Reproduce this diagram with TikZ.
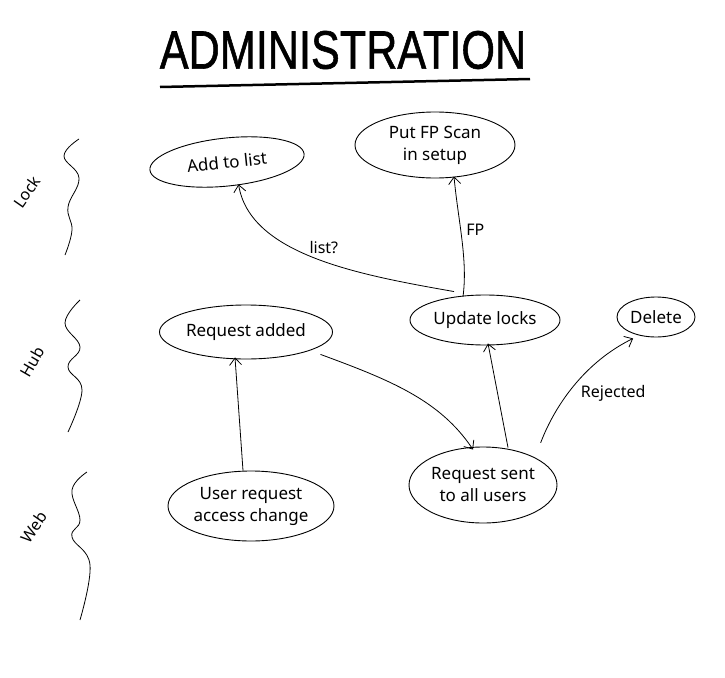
\documentclass[tikz,border=0pt]{standalone}
\usepackage{fontspec}
\setmainfont{Noto Sans}
\newfontfamily\titlefont[FakeBold=1.2]{Liberation Sans}
\usetikzlibrary{shapes.geometric,arrows.meta}
\begin{document}
\begin{tikzpicture}[x=1pt,y=-1pt,
  state/.style={draw,ellipse,line width=0.9pt,inner sep=0pt,align=center,font=\fontsize{17}{22}\selectfont},
  flow/.style={line width=0.8pt,-{Straight Barb[length=7pt,width=12pt,line width=0.8pt]}},
  wave/.style={line width=0.8pt},
  lane/.style={font=\fontsize{16}{18}\selectfont},
  lbl/.style={font=\fontsize{16}{18}\selectfont}]
\useasboundingbox (0,0) rectangle (725,677);
% title
\node[xscale=0.8] (title) at (343,50) {\titlefont\fontsize{54}{58}\selectfont ADMINISTRATION};
\coordinate (ul1) at (160,87);
\coordinate (ul2) at (530,79);
\draw[line width=2.5pt] (ul1) -- (ul2);
% lanes
\draw[wave] plot[smooth,tension=0.7] coordinates {(79,139) (64,156) (79,178) (68,207) (72,230) (65,255)};
\draw[wave] plot[smooth,tension=0.7] coordinates {(80,300) (65,323) (80,347) (68,367) (82,390) (68,432)};
\draw[wave] plot[smooth,tension=0.7] coordinates {(87,472) (72,490) (80,520) (72,537) (90,565) (80,620)};
\node[lane,rotate=55] (lock) at (27,192) {Lock};
\node[lane,rotate=60] (hub) at (32,362) {Hub};
\node[lane,rotate=55] (web) at (34,527) {Web};
% states
\node[state,minimum width=155pt,minimum height=48pt,rotate=6] (add) at (227,162) {Add to list};
\node[state,minimum width=160pt,minimum height=66pt] (fp) at (435,145) {Put FP Scan\\in setup};
\node[state,minimum width=173pt,minimum height=54pt] (req) at (246,332) {Request added};
\node[state,minimum width=150pt,minimum height=50pt] (upd) at (485,320) {Update locks};
\node[state,minimum width=78pt,minimum height=40pt] (del) at (656,317) {Delete};
\node[state,minimum width=166pt,minimum height=70pt] (user) at (251,506) {User request\\access change};
\node[state,minimum width=148pt,minimum height=76pt] (sent) at (483,485) {Request sent\\to all users};
% connectors
\draw[flow] ([xshift=-8pt]user.north) -- ([xshift=-11pt,yshift=2pt]req.south);
\draw[flow] ([xshift=13pt,yshift=-3pt]req.south east) .. controls (390,380) and (440,400) .. ([xshift=-10pt,yshift=-3pt]sent.north);
\draw[flow] ([xshift=25pt,yshift=-1pt]sent.north) -- ([xshift=3pt,yshift=2pt]upd.south);
\draw[flow] ([xshift=5pt,yshift=15pt]sent.north east) .. controls (555,405) and (585,362) .. ([xshift=5pt,yshift=-7pt]del.south west)
  node[pos=0.5,right,lbl,xshift=3pt,yshift=-8pt] {Rejected};
\draw[flow] ([xshift=-31pt,yshift=3pt]upd.north) .. controls (360,275) and (250,255) .. ([xshift=9pt,yshift=2pt]add.south)
  node[pos=0.45,above,lbl,yshift=5pt,xshift=-4pt] {list?};
\draw[flow] ([xshift=-22pt,yshift=-2pt]upd.north) .. controls (468,260) and (458,220) .. ([xshift=19pt,yshift=2pt]fp.south)
  node[pos=0.58,right,lbl,xshift=2pt] {FP};
\end{tikzpicture}
\end{document}
